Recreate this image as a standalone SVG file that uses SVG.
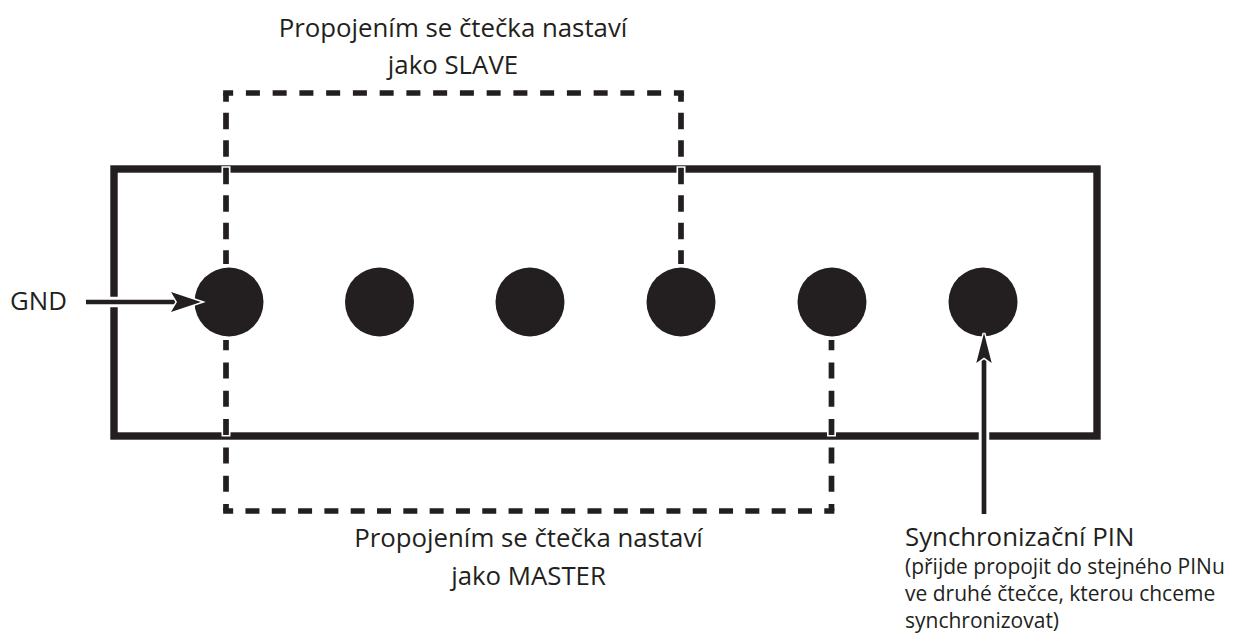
<svg xmlns="http://www.w3.org/2000/svg" width="1239" height="637" viewBox="0 0 1239 637">
  <style>
    .board { fill: none; stroke: #231f20; stroke-width: 7.4; stroke-linejoin: miter; }
    .pin { fill: #231f20; }
    .dash { fill: none; stroke: #231f20; stroke-width: 5.7; stroke-linecap: butt; }
    .dashv { stroke-dasharray: 16.5 11; stroke-dashoffset: 7.8; }
    .dashv-halo { fill: none; stroke: #ffffff; stroke-width: 9; stroke-dasharray: 19.5 8; stroke-dashoffset: 9.3; }
    .dashb { stroke-dasharray: 16 12.3; stroke-dashoffset: 9; }
    .dashb-halo { fill: none; stroke: #ffffff; stroke-width: 9; stroke-dasharray: 19 9.3; stroke-dashoffset: 10.5; }
    .arrow-line { fill: none; stroke: #231f20; stroke-width: 4.7; }
    .arrow-halo { fill: none; stroke: #ffffff; stroke-width: 10.5; }
    .arrow-head { fill: #231f20; stroke: #ffffff; stroke-width: 3; paint-order: stroke; stroke-linejoin: miter; }
    .lbl { font-family: "Open Sans", "Noto Sans", "DejaVu Sans", sans-serif; fill: #231f20; }
    .big { font-size: 25.8px; }
    .small { font-size: 21px; }
  </style>

  <g id="board">
    <rect class="board" x="114" y="169" width="983" height="267"/>
  </g>

  <g id="pin1"><circle class="pin" cx="229" cy="302" r="34.5"/></g>
  <g id="pin2"><circle class="pin" cx="379.5" cy="302" r="34.5"/></g>
  <g id="pin3"><circle class="pin" cx="530" cy="302" r="34.5"/></g>
  <g id="pin4"><circle class="pin" cx="681" cy="302" r="34.5"/></g>
  <g id="pin5"><circle class="pin" cx="832" cy="302" r="34.5"/></g>
  <g id="pin6"><circle class="pin" cx="983" cy="302" r="34.5"/></g>

  <g id="connectors">
    <g id="slave-jumper">
      <path class="dashv-halo" d="M226,93 V264"/>
      <path class="dashv-halo" d="M681,93 V264"/>
      <path class="dash dashv" d="M226,93 V264"/>
      <path class="dash dashv" d="M681,93 V264"/>
      <path class="dash" style="stroke-dasharray:14 12.75;stroke-dashoffset:4" d="M223.15,93 H683.85"/>
    </g>
    <g id="master-jumper">
      <path class="dashb-halo" d="M226,511 V340"/>
      <path class="dashb-halo" d="M831.5,511 V340"/>
      <path class="dash dashb" d="M226,511 V340"/>
      <path class="dash dashb" d="M831.5,511 V340"/>
      <path class="dash" style="stroke-dasharray:14 12.31;stroke-dashoffset:4" d="M223.15,511 H834.35"/>
    </g>
    <g id="gnd-arrow">
      <path class="arrow-halo" d="M86,302 H174"/>
      <path class="arrow-line" d="M86,302 H178"/>
      <polygon class="arrow-head" points="201,302 171,292 177,302 171,312"/>
    </g>
    <g id="sync-arrow">
      <path class="arrow-halo" d="M984,514 V361"/>
      <path class="arrow-line" d="M984,514 V357"/>
      <polygon class="arrow-head" points="984,333 976.3,363 984,357.5 991.7,363"/>
    </g>
  </g>

  <g id="label-slave">
    <text class="lbl big" x="453" y="37" text-anchor="middle">Propojením se čtečka nastaví</text>
    <text class="lbl big" x="453" y="74" text-anchor="middle">jako SLAVE</text>
  </g>
  <g id="label-master">
    <text class="lbl big" x="528.5" y="547" text-anchor="middle">Propojením se čtečka nastaví</text>
    <text class="lbl big" x="528.5" y="585" text-anchor="middle">jako MASTER</text>
  </g>
  <g id="label-gnd">
    <text class="lbl big" x="10" y="310">GND</text>
  </g>
  <g id="label-sync">
    <text class="lbl big" x="905" y="546">Synchronizační PIN</text>
    <text class="lbl small" x="905" y="574">(přijde propojit do stejného PINu</text>
    <text class="lbl small" x="905" y="601">ve druhé čtečce, kterou chceme</text>
    <text class="lbl small" x="905" y="628">synchronizovat)</text>
  </g>
</svg>
